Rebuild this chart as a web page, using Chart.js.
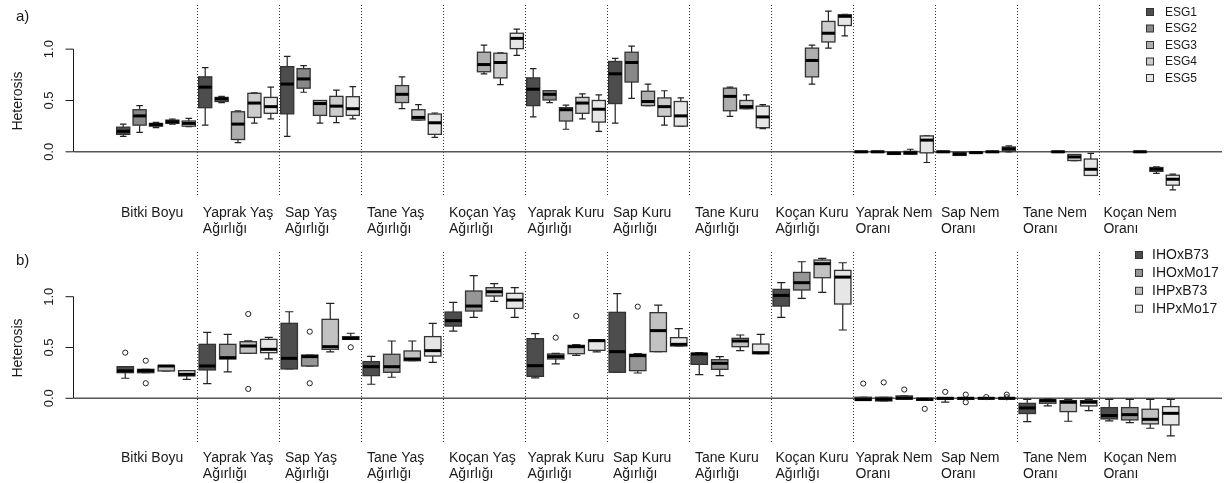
<!DOCTYPE html>
<html>
<head>
<meta charset="utf-8">
<script src="https://cdn.jsdelivr.net/npm/chart.js@4.4.1/dist/chart.umd.min.js"></script>
<style>
  html, body { margin: 0; padding: 0; background: #fff; }
  canvas { display: block; }
</style>
</head>
<body>
<canvas id="chartA" width="1230" height="240"></canvas>
<canvas id="chartB" width="1230" height="243"></canvas>
<script>
const categories = [
  ["Bitki Boyu"],
  ["Yaprak Yaş", "Ağırlığı"],
  ["Sap Yaş", "Ağırlığı"],
  ["Tane Yaş", "Ağırlığı"],
  ["Koçan Yaş", "Ağırlığı"],
  ["Yaprak Kuru", "Ağırlığı"],
  ["Sap Kuru", "Ağırlığı"],
  ["Tane Kuru", "Ağırlığı"],
  ["Koçan Kuru", "Ağırlığı"],
  ["Yaprak Nem", "Oranı"],
  ["Sap Nem", "Oranı"],
  ["Tane Nem", "Oranı"],
  ["Koçan Nem", "Oranı"]
];
const yTicks = [0, 0.5, 1.0];
const yTickLabels = ["0.0", "0.5", "1.0"];
const yTitle = "Heterosis";

// panel a) series: [lower whisker, Q1, median, Q3, upper whisker] per category
const namesA = ["ESG1", "ESG2", "ESG3", "ESG4", "ESG5"];
const esg1 = [
  [0.15, 0.17, 0.20, 0.24, 0.27], [0.26, 0.43, 0.63, 0.73, 0.82], [0.15, 0.37, 0.66, 0.83, 0.93],
  null, null,
  [0.34, 0.45, 0.61, 0.72, 0.81], [0.28, 0.47, 0.76, 0.88, 0.91],
  null, null,
  [-0.005, -0.005, 0, 0.005, 0.005], [-0.005, -0.005, 0, 0.005, 0.005],
  null, null
];
const esg2 = [
  [0.19, 0.26, 0.35, 0.41, 0.45], [0.48, 0.49, 0.515, 0.53, 0.54], [0.58, 0.62, 0.71, 0.81, 0.84],
  null, null,
  [0.48, 0.505, 0.56, 0.595, 0.595], [0.52, 0.68, 0.87, 0.97, 1.03],
  null, null,
  [-0.005, -0.005, 0, 0.005, 0.005], [-0.035, -0.035, -0.022, -0.008, -0.008],
  null, null
];
const esg3 = [
  [0.235, 0.25, 0.265, 0.277, 0.287], [0.09, 0.12, 0.27, 0.39, 0.40], [0.28, 0.355, 0.47, 0.50, 0.50],
  [0.42, 0.48, 0.56, 0.645, 0.73], [0.76, 0.78, 0.85, 0.97, 1.04],
  [0.22, 0.30, 0.41, 0.43, 0.455], [0.45, 0.45, 0.49, 0.59, 0.66],
  [0.345, 0.40, 0.54, 0.62, 0.63], [0.66, 0.73, 0.89, 1.01, 1.04],
  [-0.025, -0.025, -0.015, -0.004, -0.004], [-0.012, -0.012, -0.008, -0.003, -0.003],
  [-0.005, -0.005, 0, 0.005, 0.005], [-0.005, -0.005, 0, 0.005, 0.005]
];
const esg4 = [
  [0.27, 0.277, 0.293, 0.309, 0.319], [0.28, 0.335, 0.475, 0.57, 0.575], [0.285, 0.345, 0.445, 0.54, 0.60],
  [0.31, 0.31, 0.335, 0.41, 0.46], [0.655, 0.72, 0.87, 0.96, 0.965],
  [0.32, 0.375, 0.475, 0.53, 0.565], [0.26, 0.345, 0.44, 0.525, 0.595],
  [0.42, 0.42, 0.44, 0.50, 0.555], [1.01, 1.07, 1.155, 1.27, 1.37],
  [-0.023, -0.023, -0.01, 0.005, 0.025], [-0.004, -0.004, 0, 0.005, 0.005],
  [-0.085, -0.085, -0.05, -0.026, -0.026], [-0.21, -0.19, -0.17, -0.153, -0.147]
];
const esg5 = [
  [0.245, 0.25, 0.277, 0.30, 0.325], [0.32, 0.375, 0.44, 0.53, 0.63], [0.32, 0.355, 0.42, 0.537, 0.635],
  [0.14, 0.17, 0.283, 0.368, 0.378], [0.94, 1.005, 1.105, 1.155, 1.195],
  [0.20, 0.29, 0.415, 0.50, 0.555], [0.25, 0.25, 0.35, 0.49, 0.525],
  [0.225, 0.235, 0.34, 0.445, 0.46], [1.13, 1.23, 1.32, 1.335, 1.34],
  [-0.104, -0.01, 0.114, 0.155, 0.155], [0.0, 0.01, 0.03, 0.047, 0.058],
  [-0.23, -0.23, -0.17, -0.07, -0.016], [-0.37, -0.325, -0.267, -0.228, -0.218]
];

// panel b) series
const namesB = ["IHOxB73", "IHOxMo17", "IHPxB73", "IHPxMo17"];
const ihoB73 = [
  [0.197, 0.252, 0.27, 0.311, 0.311], [0.144, 0.279, 0.318, 0.531, 0.649], [0.289, 0.289, 0.393, 0.738, 0.852],
  [0.138, 0.223, 0.311, 0.361, 0.413], [0.662, 0.711, 0.764, 0.849, 0.944],
  [0.20, 0.216, 0.321, 0.587, 0.636], [0.256, 0.256, 0.459, 0.846, 1.03],
  [0.233, 0.334, 0.436, 0.443, 0.449], [0.797, 0.908, 1.013, 1.072, 1.138],
  [-0.02, -0.02, -0.013, 0.01, 0.01], [-0.038, -0.01, 0, 0.006, 0.006],
  [-0.23, -0.15, -0.095, -0.05, -0.01], [-0.223, -0.203, -0.17, -0.092, -0.01]
];
const ihoMo17 = [
  [0.252, 0.252, 0.272, 0.285, 0.285], [0.259, 0.387, 0.40, 0.531, 0.63], [0.318, 0.318, 0.41, 0.426, 0.426],
  [0.207, 0.256, 0.311, 0.433, 0.564], [0.797, 0.859, 0.908, 1.056, 1.207],
  [0.338, 0.387, 0.41, 0.436, 0.443], [0.249, 0.272, 0.42, 0.433, 0.439],
  [0.223, 0.285, 0.344, 0.38, 0.41], [0.984, 1.066, 1.138, 1.239, 1.344],
  [-0.026, -0.026, -0.01, 0.01, 0.01], [-0.01, -0.01, 0, 0.006, 0.006],
  [-0.075, -0.049, -0.023, -0.016, -0.007], [-0.239, -0.213, -0.161, -0.092, -0.01]
];
const ihpB73 = [
  [0.269, 0.269, 0.318, 0.321, 0.321], [0.443, 0.443, 0.515, 0.557, 0.565], [0.456, 0.482, 0.508, 0.777, 0.934],
  [0.37, 0.37, 0.387, 0.466, 0.564], [0.954, 1.007, 1.049, 1.089, 1.128],
  [0.423, 0.439, 0.508, 0.521, 0.528], [0.459, 0.459, 0.666, 0.843, 0.918],
  [0.469, 0.508, 0.564, 0.59, 0.623], [1.043, 1.187, 1.325, 1.361, 1.377],
  [-0.01, -0.01, 0.003, 0.023, 0.023], [-0.006, -0.006, 0, 0.006, 0.006],
  [-0.226, -0.131, -0.039, -0.023, -0.01], [-0.295, -0.252, -0.207, -0.108, -0.01]
];
const ihpMo17 = [
  [0.187, 0.22, 0.236, 0.272, 0.272], [0.387, 0.449, 0.482, 0.58, 0.60], [0.58, 0.58, 0.59, 0.607, 0.64],
  [0.354, 0.416, 0.469, 0.607, 0.738], [0.797, 0.885, 0.967, 1.033, 1.089],
  [0.456, 0.472, 0.567, 0.574, 0.577], [0.515, 0.515, 0.531, 0.597, 0.685],
  [0.439, 0.439, 0.449, 0.534, 0.63], [0.672, 0.928, 1.193, 1.259, 1.334],
  [-0.02, -0.02, -0.01, 0.0, 0.0], [-0.006, -0.006, 0, 0.006, 0.006],
  [-0.121, -0.075, -0.039, -0.023, -0.01], [-0.37, -0.262, -0.148, -0.082, -0.01]
];
// outliers: [category index, value]
const ihoB73Out = [[0, 0.449], [9, 0.145], [10, 0.063]];
const ihoMo17Out = [[0, 0.37], [0, 0.148], [2, 0.656], [2, 0.148], [5, 0.597], [6, 0.902], [9, 0.157], [10, 0.036], [10, -0.039]];
const ihpB73Out = [[1, 0.83], [1, 0.092], [5, 0.81], [9, 0.086], [10, 0.012]];
const ihpMo17Out = [[2, 0.502], [9, -0.104], [10, 0.036], [10, 0.01]];

const FONT = "'Liberation Sans', Arial, Helvetica, sans-serif";
const INK = "#1a1a1a";

const panels = {
  a: {
    tag: "a)", names: namesA, stats: [esg1, esg2, esg3, esg4, esg5], outliers: [[], [], [], [], []],
    colors: ["#4d4d4d", "#888888", "#aeaeae", "#cccccc", "#e6e6e6"],
    slot: 0.2, boxW: 0.16, yMin: -0.44, yMax: 1.43,
    padding: { left: 74, right: 8, top: 5, bottom: 43 },
    labelY: 20, tagY: 21,
    legend: { x: 1146, y: 12, step: 16.5, size: 12, textX: 1165 }
  },
  b: {
    tag: "b)", names: namesB, stats: [ihoB73, ihoMo17, ihpB73, ihpMo17],
    outliers: [ihoB73Out, ihoMo17Out, ihpB73Out, ihpMo17Out],
    colors: ["#4d4d4d", "#969696", "#c2c2c2", "#e6e6e6"],
    slot: 0.25, boxW: 0.2, yMin: -0.45, yMax: 1.44,
    padding: { left: 74, right: 8, top: 12, bottom: 39 },
    labelY: 18, tagY: 25,
    legend: { x: 1135, y: 15, step: 17.9, size: 14, textX: 1152 }
  }
};

function offsetOf(p, k) {
  return (k - (p.names.length - 1) / 2) * p.slot;
}

const boxPlugin = {
  id: "boxes",
  beforeDatasetsDraw(chart) {
    const p = chart.options.plugins.boxes.panel;
    const { ctx, chartArea: ca, scales: { x, y } } = chart;
    ctx.save();
    // dotted separators between categories
    ctx.strokeStyle = "#333";
    ctx.lineWidth = 1;
    ctx.setLineDash([1, 2]);
    for (let i = 0; i < categories.length - 1; i++) {
      const px = Math.round(x.getPixelForValue(i + 0.5)) + 0.5;
      ctx.beginPath();
      ctx.moveTo(px, ca.top);
      ctx.lineTo(px, ca.bottom);
      ctx.stroke();
    }
    ctx.setLineDash([]);
    // zero line
    const y0 = y.getPixelForValue(0);
    ctx.strokeStyle = "#555";
    ctx.lineWidth = 1.5;
    ctx.beginPath();
    ctx.moveTo(ca.left, y0);
    ctx.lineTo(ca.right, y0);
    ctx.stroke();

    // boxes
    p.stats.forEach((series, k) => {
      series.forEach((s, i) => {
        if (!s) return;
        const c = i + offsetOf(p, k);
        const [lo, q1, med, q3, hi] = s;
        const xl = x.getPixelForValue(c - p.boxW / 2);
        const xr = x.getPixelForValue(c + p.boxW / 2);
        const xc = x.getPixelForValue(c);
        const sl = x.getPixelForValue(c - p.boxW / 4);
        const sr = x.getPixelForValue(c + p.boxW / 4);
        const pLo = y.getPixelForValue(lo), pQ1 = y.getPixelForValue(q1);
        const pMed = y.getPixelForValue(med), pQ3 = y.getPixelForValue(q3);
        const pHi = y.getPixelForValue(hi);
        ctx.strokeStyle = "#222";
        ctx.lineWidth = 1.2;
        ctx.beginPath();
        ctx.moveTo(xc, pQ3); ctx.lineTo(xc, pHi);
        ctx.moveTo(sl, pHi); ctx.lineTo(sr, pHi);
        ctx.moveTo(xc, pQ1); ctx.lineTo(xc, pLo);
        ctx.moveTo(sl, pLo); ctx.lineTo(sr, pLo);
        ctx.stroke();
        ctx.fillStyle = p.colors[k];
        ctx.fillRect(xl, pQ3, xr - xl, pQ1 - pQ3);
        ctx.strokeStyle = "#333";
        ctx.lineWidth = 1.3;
        ctx.strokeRect(xl, pQ3, xr - xl, pQ1 - pQ3);
        ctx.strokeStyle = "#000";
        ctx.lineWidth = 3;
        ctx.beginPath();
        ctx.moveTo(xl, pMed); ctx.lineTo(xr, pMed);
        ctx.stroke();
      });
    });
    ctx.restore();
  },
  afterDraw(chart) {
    const p = chart.options.plugins.boxes.panel;
    const { ctx, chartArea: ca, scales: { x, y } } = chart;
    ctx.save();
    ctx.fillStyle = INK;
    ctx.strokeStyle = INK;

    // y axis
    const yTop = y.getPixelForValue(yTicks[yTicks.length - 1]);
    const yBot = y.getPixelForValue(yTicks[0]);
    const ax = ca.left - 0.5;
    ctx.lineWidth = 1;
    ctx.beginPath();
    ctx.moveTo(ax, yTop); ctx.lineTo(ax, yBot);
    yTicks.forEach(t => {
      const py = y.getPixelForValue(t);
      ctx.moveTo(ax - 8, py); ctx.lineTo(ax, py);
    });
    ctx.stroke();
    ctx.font = "13px " + FONT;
    ctx.textAlign = "center";
    ctx.textBaseline = "middle";
    yTicks.forEach((t, i) => {
      ctx.save();
      ctx.translate(49, y.getPixelForValue(t));
      ctx.rotate(-Math.PI / 2);
      ctx.fillText(yTickLabels[i], 0, 0);
      ctx.restore();
    });
    ctx.save();
    ctx.font = "14px " + FONT;
    ctx.translate(18, (ca.top + ca.bottom) / 2);
    ctx.rotate(-Math.PI / 2);
    ctx.fillText(yTitle, 0, 0);
    ctx.restore();

    // category labels
    ctx.font = "14px " + FONT;
    ctx.textAlign = "left";
    ctx.textBaseline = "alphabetic";
    categories.forEach((lines, i) => {
      const w = Math.max(70, ...lines.map(l => ctx.measureText(l).width));
      const left = x.getPixelForValue(i) - w / 2;
      lines.forEach((l, j) => ctx.fillText(l, left, ca.bottom + p.labelY + j * 16));
    });

    // panel tag
    ctx.font = "15px " + FONT;
    ctx.fillText(p.tag, 16, p.tagY);

    // legend
    const lg = p.legend;
    ctx.font = lg.size + "px " + FONT;
    ctx.textBaseline = "middle";
    p.names.forEach((n, k) => {
      const cy = lg.y + k * lg.step;
      ctx.fillStyle = p.colors[k];
      ctx.fillRect(lg.x, cy - 3.5, 7, 7);
      ctx.strokeStyle = "#333";
      ctx.lineWidth = 1;
      ctx.strokeRect(lg.x + 0.5, cy - 3.5, 7, 7);
      ctx.fillStyle = INK;
      ctx.fillText(n, lg.textX, cy + 0.5);
    });
    ctx.restore();
  }
};

function makeChart(id, p) {
  const datasets = p.names.map((n, k) => ({
    label: n,
    data: p.outliers[k].map(([i, v]) => ({ x: i + offsetOf(p, k), y: v })),
    pointRadius: 2.6,
    pointBorderWidth: 1,
    pointBorderColor: "#222",
    pointBackgroundColor: "rgba(0,0,0,0)"
  }));
  return new Chart(document.getElementById(id), {
    type: "scatter",
    data: { datasets },
    options: {
      responsive: false,
      animation: false,
      events: [],
      layout: { padding: p.padding },
      scales: {
        x: { type: "linear", min: -1, max: categories.length, display: false },
        y: { type: "linear", min: p.yMin, max: p.yMax, display: false }
      },
      plugins: {
        legend: { display: false },
        tooltip: { enabled: false },
        boxes: { panel: p }
      }
    },
    plugins: [boxPlugin]
  });
}

makeChart("chartA", panels.a);
makeChart("chartB", panels.b);
</script>
</body>
</html>
